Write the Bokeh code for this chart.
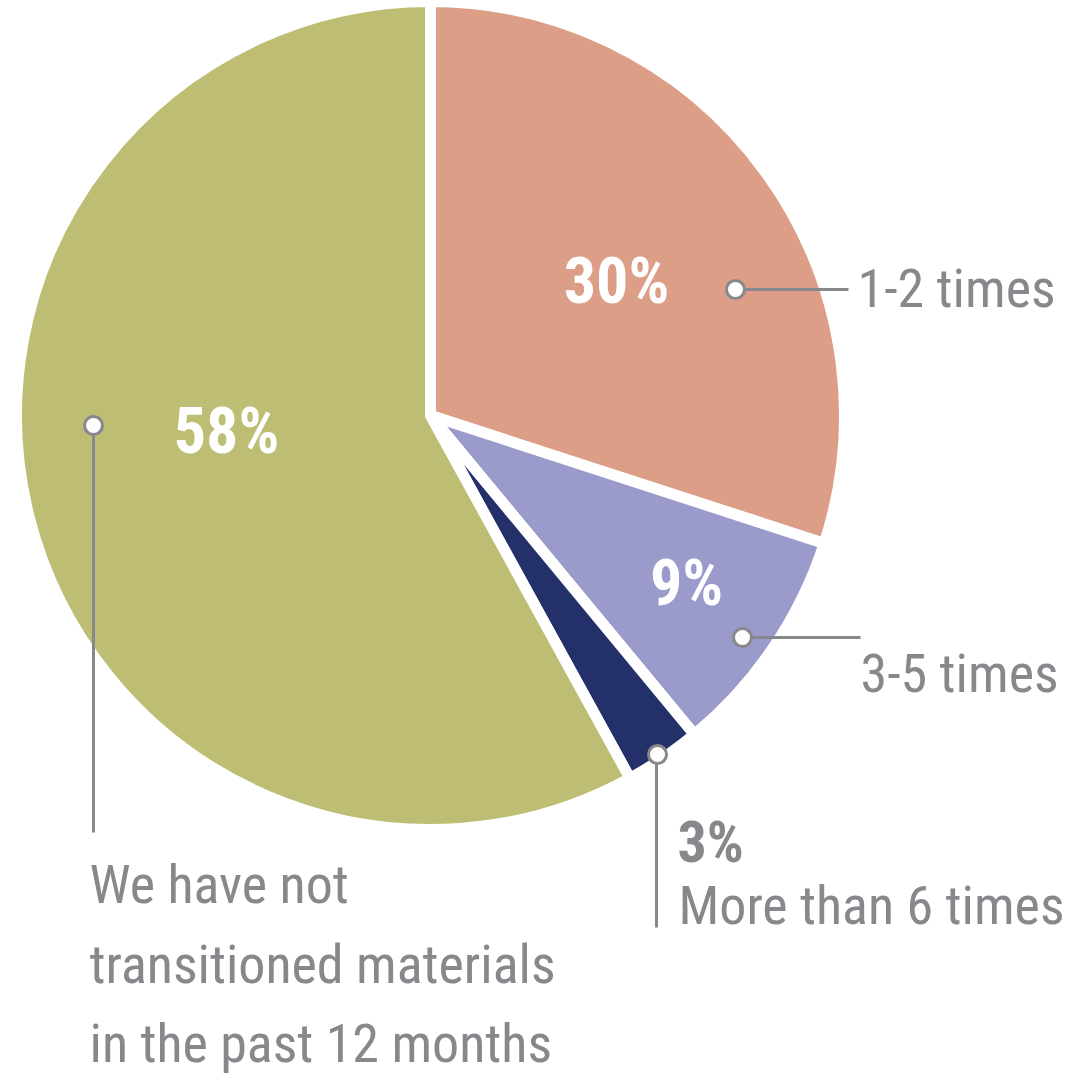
import math
from bokeh.plotting import figure
from bokeh.models import Range1d, ColumnDataSource
from bokeh.core.properties import value
from bokeh.embed import file_html
from bokeh.resources import INLINE

# ---- data ----
categories = ["1-2 times", "3-5 times", "More than 6 times",
              "We have not transitioned materials in the past 12 months"]
percents = [30, 9, 3, 58]
colors = ["#dd9e88", "#9a9acb", "#23306a", "#bdbd74"]
pct_labels = ["30%", "9%", "3%", "58%"]

W, H = 1079, 1076
FONT = "Roboto Condensed"
GRAY = "#87888c"

def Y(py):
    return H - py

def TB(py, size):
    # baseline position corrected for renderer's baseline offset
    return Y(py - 0.37 * size)

p = figure(width=W, height=H, output_backend="svg", toolbar_location=None,
           x_range=Range1d(0, W), y_range=Range1d(0, H), min_border=0)
p.axis.visible = False
p.grid.visible = False
p.outline_line_color = None
p.background_fill_color = "white"

cx, cy, r = 430, Y(415), 414
total = sum(percents)
starts, ends = [], []
cum = 0
for v in percents:
    starts.append(math.pi / 2 - cum / total * 2 * math.pi)
    cum += v
    ends.append(math.pi / 2 - cum / total * 2 * math.pi)

src = ColumnDataSource(dict(start=starts, end=ends, color=colors))
p.wedge(x=cx, y=cy, radius=r, start_angle="start", end_angle="end",
        direction="clock", fill_color="color", line_color="white",
        line_width=11, source=src)

# white percentage labels inside slices
PS = 64
inside = ColumnDataSource(dict(x=[616, 686, 226],
                               y=[TB(305, PS), TB(607, PS), TB(455, PS)],
                               t=[pct_labels[0], pct_labels[1], pct_labels[3]]))
p.text(x="x", y="y", text="t", source=inside, text_font=value(FONT),
       text_font_style="bold", text_font_size=f"{PS}px", text_color="white",
       text_align="center", text_baseline="alphabetic")

# leader lines
p.segment(x0=[735, 742, 656, 93], y0=[Y(289), Y(637), Y(754), Y(425)],
          x1=[848, 860, 656, 93], y1=[Y(289), Y(637), Y(927), Y(832)],
          line_color=GRAY, line_width=3)
p.scatter(x=[735, 742, 657, 93], y=[Y(289), Y(637), Y(754), Y(425)],
          size=18, fill_color="white", line_color=GRAY, line_width=3)

# category labels
LS = 54
lab = ColumnDataSource(dict(
    x=[857, 860, 678, 89, 89, 89],
    y=[TB(308, LS), TB(693, LS), TB(925, LS), TB(904, LS), TB(984, LS), TB(1063, LS)],
    t=[categories[0], categories[1], categories[2],
       "We have not", "transitioned materials", "in the past 12 months"]))
p.text(x="x", y="y", text="t", source=lab, text_font=value(FONT),
       text_font_size=f"{LS}px", text_color=GRAY, text_align="left",
       text_baseline="alphabetic")

BS = 58
p.text(x=[677], y=[TB(863, BS)], text=[pct_labels[2]], text_font=value(FONT),
       text_font_style="bold", text_font_size=f"{BS}px", text_color=GRAY,
       text_align="left", text_baseline="alphabetic")

open("out.html", "w").write(file_html(p, INLINE))
